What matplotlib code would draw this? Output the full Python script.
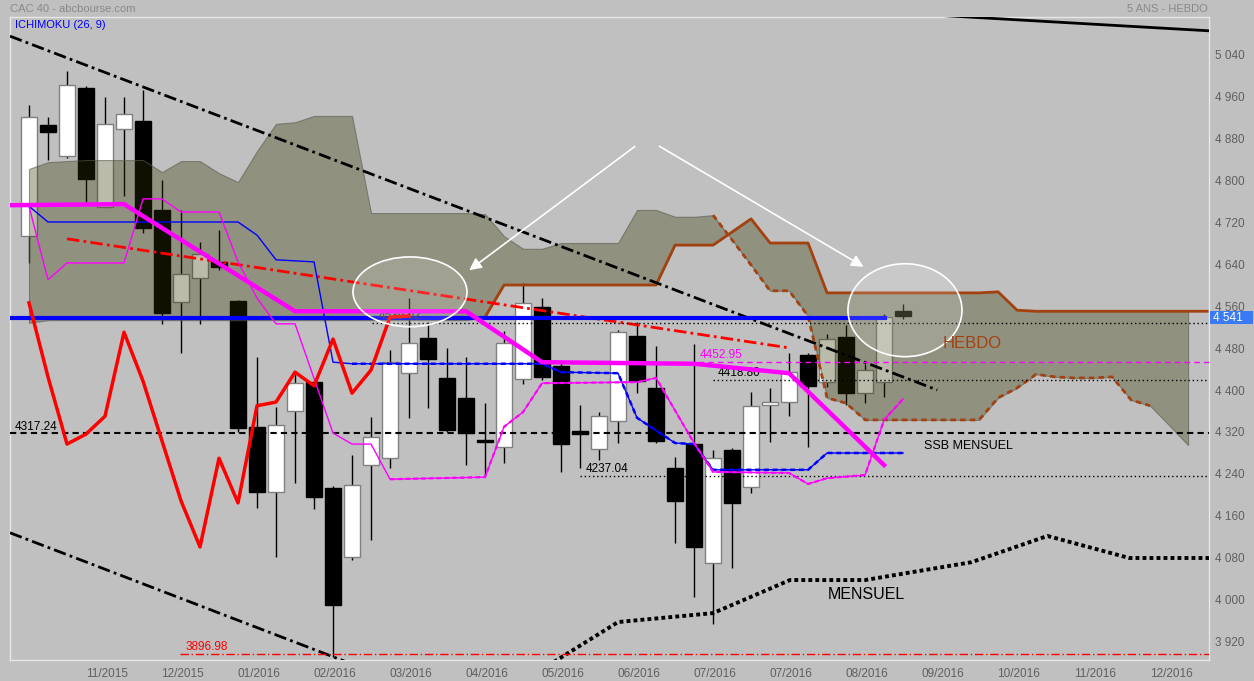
import numpy as np
import matplotlib.pyplot as plt
from matplotlib.patches import Ellipse, Rectangle

plt.rcParams['font.family'] = ['Liberation Sans', 'DejaVu Sans']

# weekly CAC 40 candles (week index 0..46)
opens = [4693, 4905, 4846, 4975, 4749, 4897, 4912, 4743, 4568, 4613, 4644, 4569,
         4330, 4206, 4360, 4415, 4213, 4082, 4257, 4270, 4432, 4499, 4423, 4385,
         4302, 4291, 4421, 4558, 4446, 4321, 4288, 4341, 4503, 4404, 4251, 4297,
         4070, 4286, 4215, 4371, 4377, 4467, 4415, 4501, 4394, 4415, 4551]
highs = [4943, 4920, 5008, 4979, 4958, 4958, 4971, 4800, 4743, 4682, 4705, 4571,
         4463, 4368, 4436, 4418, 4217, 4276, 4349, 4476, 4575, 4530, 4480, 4463,
         4375, 4512, 4604, 4575, 4455, 4371, 4358, 4514, 4530, 4484, 4272, 4488,
         4286, 4290, 4396, 4404, 4470, 4470, 4507, 4524, 4450, 4545, 4564]
lows = [4642, 4838, 4842, 4758, 4749, 4770, 4700, 4526, 4470, 4526, 4629, 4320,
        4175, 4082, 4223, 4173, 3891, 4076, 4114, 4251, 4347, 4366, 4320, 4257,
        4238, 4261, 4411, 4420, 4244, 4251, 4267, 4299, 4394, 4299, 4109, 4006,
        3954, 4061, 4204, 4301, 4350, 4291, 4406, 4371, 4375, 4387, 4535]
closes = [4920, 4892, 4981, 4802, 4907, 4926, 4709, 4547, 4621, 4659, 4634, 4328,
          4206, 4333, 4413, 4196, 3990, 4219, 4310, 4453, 4489, 4459, 4324, 4318,
          4300, 4489, 4566, 4425, 4297, 4316, 4350, 4510, 4417, 4303, 4189, 4101,
          4270, 4185, 4370, 4377, 4434, 4408, 4497, 4394, 4438, 4539, 4541]

# ichimoku cloud edges (week index 0..61 / 0..62)
span_a = [4821, 4834, 4836, 4838, 4838, 4838, 4838, 4815, 4836, 4836, 4813, 4796,
          4855, 4907, 4910, 4922, 4922, 4922, 4737, 4737, 4737, 4737, 4737, 4737,
          4735, 4693, 4669, 4669, 4680, 4680, 4680, 4680, 4743, 4743, 4730, 4730,
          4733, 4686, 4638, 4589, 4589, 4541, 4385, 4375, 4343, 4343, 4343, 4343,
          4343, 4343, 4343, 4385, 4404, 4430, 4425, 4423, 4423, 4425, 4381, 4370,
          4333, 4295]
span_b = [4528] + [4533] * 23 + [4539, 4600, 4600, 4600, 4600, 4600, 4600, 4600,
          4600, 4600, 4676, 4676, 4676, 4701, 4726, 4680, 4680, 4680, 4585, 4585,
          4585, 4585, 4585, 4585, 4585, 4585, 4585, 4587, 4552] + [4550] * 10

kijun_x = [0, 1, 11, 12, 13, 15, 16, 17, 27, 28, 31, 32, 34, 35, 36, 41, 42, 46]
kijun_y = [4750, 4720, 4720, 4695, 4648, 4644, 4453, 4450, 4450, 4434, 4432, 4347,
           4299, 4297, 4248, 4248, 4280, 4280]

tenkan_x = [0, 1, 2, 5, 6, 7, 8, 10, 11, 12, 13, 14, 16, 17, 18, 19, 24, 25, 26,
            27, 32, 33, 35, 36, 40, 41, 42, 44, 45, 46]
tenkan_y = [4750, 4610, 4642, 4642, 4764, 4764, 4739, 4739, 4644, 4575, 4526, 4526,
            4318, 4297, 4297, 4230, 4234, 4330, 4358, 4413, 4415, 4423, 4299, 4244,
            4242, 4221, 4232, 4238, 4343, 4383]

kijun_m_x = [-1, 5, 14, 23, 27, 35, 40, 45]
kijun_m_y = [4752, 4754, 4550, 4550, 4452.95, 4450, 4432, 4257]

mensuel_x = [27, 31, 36, 40.05, 44, 49.6, 53.6, 57.9, 62.2]
mensuel_y = [3868, 3958, 3975, 4038, 4038, 4072, 4122, 4080, 4080]

month_labels = ["11/2015", "12/2015", "01/2016", "02/2016", "03/2016", "04/2016",
                "05/2016", "06/2016", "07/2016", "07/2016", "08/2016", "09/2016",
                "10/2016", "11/2016", "12/2016"]
yticks = [3920, 4000, 4080, 4160, 4240, 4320, 4400, 4480, 4560, 4640, 4720, 4800,
          4880, 4960, 5040]
last_price = 4541

bg = '#c0c0c0'
brown = '#a3410f'

fig = plt.figure(figsize=(12.54, 6.81), dpi=100, facecolor=bg)
ax = fig.add_axes([10 / 1254, 21 / 681, 1199 / 1254, 643 / 681], facecolor=bg)
ax.set_xlim(-1, 62.1)
ax.set_ylim(3885.7, 5110.5)

idx = np.arange(len(closes))
o = np.array(opens)
c = np.array(closes)

# candles
ax.vlines(idx, lows, highs, color='black', lw=1, zorder=1)
up = c >= o
body = np.maximum(np.abs(c - o), 4)
ax.bar(idx[up], body[up], bottom=o[up], width=0.84, color='white',
       edgecolor='#808080', lw=1, zorder=2)
ax.bar(idx[~up], body[~up], bottom=c[~up], width=0.84, color='black',
       edgecolor='black', lw=1, zorder=2)

# cloud
ci = np.arange(len(span_a))
ax.fill_between(ci, span_a, span_b[:len(span_a)], facecolor=(0.2, 0.2, 0, 0.33),
                edgecolor=(0.35, 0.35, 0.3, 0.6), lw=0.8, zorder=3)
bi = np.arange(len(span_b))
ax.plot(bi[24:], span_b[24:], color=brown, lw=2, zorder=5)
ax.plot(ci[36:60], span_a[36:60], color=brown, lw=2, ls=(0, (2, 1.5)), zorder=5)

# trend lines
ax.plot([-1, 47.8], [5074, 4400], color='black', lw=2, ls=(0, (4.5, 1.5, 1, 1.5)), zorder=6)
ax.plot([-1, 17], [4128, 3878], color='black', lw=2, ls=(0, (4.5, 1.5, 1, 1.5)), zorder=6)
ax.plot([40, 62.2], [5130, 5084], color='black', lw=2, zorder=6)
ax.plot([2, 40.05], [4688, 4480], color='red', lw=2, ls=(0, (4.5, 1.5, 1, 1.5)), zorder=6)
ax.plot(mensuel_x, mensuel_y, color='black', lw=2.8, ls=(0, (1, 0.8)), zorder=6)

# horizontal levels
ax.plot([-1, 45.05], [4537, 4537], color='#0000ff', lw=3, zorder=6)
ax.plot([-1, 62.2], [4317.24, 4317.24], color='black', lw=1.5, ls=(0, (3, 2)), zorder=6)
ax.plot([18.05, 62.2], [4527, 4527], color='black', lw=1, ls=(0, (1, 2)), zorder=6)
ax.plot([36, 62.2], [4418.8, 4418.8], color='black', lw=1, ls=(0, (1, 2)), zorder=6)
ax.plot([29, 62.2], [4237.04, 4237.04], color='black', lw=1, ls=(0, (1, 2)), zorder=6)
ax.plot([35.2, 62.2], [4452.95, 4452.95], color='#ff00ff', lw=1, ls=(0, (4, 3)), zorder=6)
ax.plot([7.95, 62.2], [3896.98, 3896.98], color='red', lw=1, ls=(0, (6, 2, 1, 2)), zorder=6)

lab = dict(fontsize=8.5, va='bottom', ha='left', zorder=7)
ax.text(-0.75, 4319, '4317.24', color='black', **lab)
ax.text(18.4, 4529, '4539.02', color='#333333', **lab)
ax.text(36.25, 4421, '4418.80', color='black', **lab)
ax.text(29.3, 4239, '4237.04', color='black', **lab)
ax.text(35.3, 4455, '4452.95', color='#ff00ff', **lab)
ax.text(8.25, 3899, '3896.98', color='red', **lab)

# ichimoku lines
ax.plot(kijun_x, kijun_y, color='#0000ff', lw=1, zorder=7)
ax.plot(kijun_x[7:], kijun_y[7:], color='#0000ff', lw=1.8, ls=(0, (2, 1.5)), zorder=7)
ax.plot(tenkan_x, tenkan_y, color='#ff00ff', lw=1, zorder=7)
ax.plot(tenkan_x[15:], tenkan_y[15:], color='#ff00ff', lw=1.6, ls=(0, (2, 1.5)), zorder=7)
ax.plot(kijun_m_x, kijun_m_y, color='#ff00ff', lw=3.2, zorder=8)
chikou = c[26:]
ax.plot(np.arange(len(chikou)), chikou, color='red', lw=2.5, zorder=8)

# annotations
for cx, cy, h in [(20.05, 4587, 133), (46.1, 4552, 177)]:
    ax.add_patch(Ellipse((cx, cy), 6.0, h, facecolor=(1, 1, 1, 0.15),
                         edgecolor='white', lw=1.2, zorder=9))
ax.annotate('', xy=(23.05, 4625), xytext=(32, 4867),
            arrowprops=dict(arrowstyle='-|>', color='white', lw=1.2, mutation_scale=18), zorder=9)
ax.annotate('', xy=(44.05, 4632), xytext=(33.05, 4867),
            arrowprops=dict(arrowstyle='-|>', color='white', lw=1.2, mutation_scale=18), zorder=9)

ax.text(48.1, 4488, 'HEBDO', color=brown, fontsize=12, va='center', ha='left', zorder=9)
ax.text(47.1, 4293, 'SSB MENSUEL', color='black', fontsize=9, va='center', ha='left', zorder=9)
ax.text(42.05, 4010, 'MENSUEL', color='black', fontsize=11.5, va='center', ha='left', zorder=9)

# axes
ax.yaxis.tick_right()
ax.set_yticks(yticks)
ax.set_yticklabels([f"{v // 1000} {v % 1000:03d}" for v in yticks])
ax.set_xticks(np.arange(4, 61, 4) + 0.1)
ax.set_xticklabels(month_labels)
ax.tick_params(axis='both', length=0, labelcolor='#606060', labelsize=8.5)
ax.tick_params(axis='x', pad=6)
ax.tick_params(axis='y', pad=4)
for s in ax.spines.values():
    s.set_color('#e8e8e8')
    s.set_linewidth(1)

# last price tag on the right axis
ytr = ax.get_yaxis_transform()
ax.add_patch(Rectangle((1.0008, last_price - 16), 0.036, 26, transform=ytr,
                       facecolor='#3a7af5', edgecolor='none', clip_on=False, zorder=10))
ax.text(1.003, last_price - 3, f"{last_price // 1000} {last_price % 1000:03d}", transform=ytr,
        color='white', fontsize=8.5, va='center', ha='left', clip_on=False, zorder=11)

fig.text(10 / 1254, 1 - 9 / 681, 'CAC 40 - abcbourse.com', color='#8a8a8a',
         fontsize=8, va='center', ha='left')
fig.text(1208 / 1254, 1 - 9 / 681, '5 ANS - HEBDO', color='#8a8a8a',
         fontsize=8, va='center', ha='right')
fig.text(15 / 1254, 1 - 25 / 681, 'ICHIMOKU (26, 9)', color='#0000ff',
         fontsize=8, va='center', ha='left')

fig.savefig('out.png', dpi=100, facecolor=bg)
